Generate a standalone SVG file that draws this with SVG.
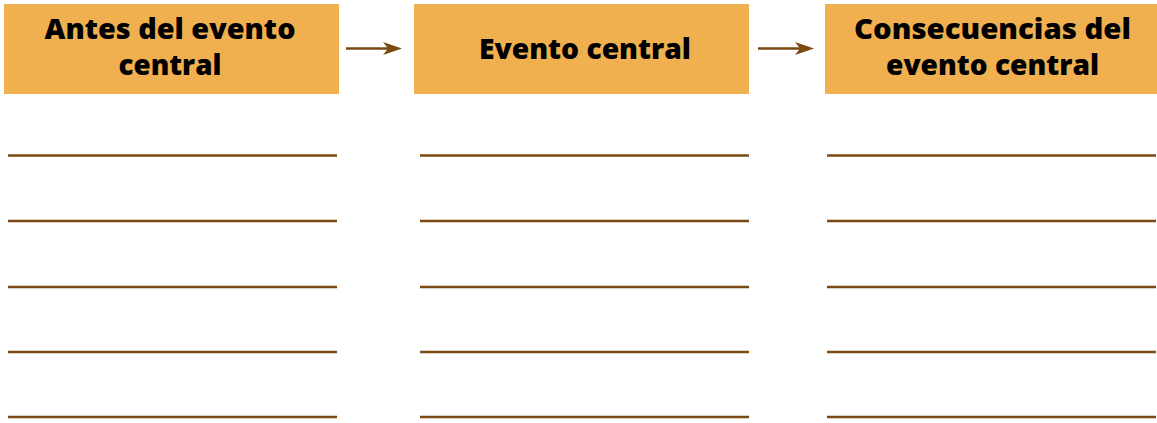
<svg xmlns="http://www.w3.org/2000/svg" width="1157" height="423" viewBox="0 0 1157 423">
<style>
.box{fill:#f0b050}
.lbl{font-family:"Open Sans","Lato",sans-serif;font-weight:800;font-size:28px;fill:#000;text-anchor:middle}
.ln{stroke:#7a4a12;stroke-width:2.6;fill:none}
.ah{fill:#7a4a12}
</style>
<rect width="1157" height="423" fill="#fff"/>
<g id="n1">
<rect class="box" x="4" y="4" width="335" height="90"/>
<text class="lbl" x="170" y="39" textLength="251" lengthAdjust="spacingAndGlyphs">Antes del evento</text>
<text class="lbl" x="170" y="75" textLength="103" lengthAdjust="spacingAndGlyphs">central</text>
</g>
<g id="n2">
<rect class="box" x="414" y="4" width="335" height="90"/>
<text class="lbl" x="585" y="59" textLength="212" lengthAdjust="spacingAndGlyphs">Evento central</text>
</g>
<g id="n3">
<rect class="box" x="825" y="4" width="332" height="90"/>
<text class="lbl" x="992.5" y="39" textLength="277" lengthAdjust="spacingAndGlyphs">Consecuencias del</text>
<text class="lbl" x="992.5" y="75" textLength="213" lengthAdjust="spacingAndGlyphs">evento central</text>
</g>
<g id="connectors">
<line class="ln" x1="346" y1="48.5" x2="390" y2="48.5"/>
<path class="ah" d="M383,42 L402,48.5 L383,55 L388,48.5 Z"/>
<line class="ln" x1="758" y1="48.5" x2="802" y2="48.5"/>
<path class="ah" d="M795,42 L814,48.5 L795,55 L800,48.5 Z"/>
</g>
<g id="lines">
<path class="ln" d="M8,155.5H337M8,221H337M8,287H337M8,352H337M8,417H337"/>
<path class="ln" d="M420,155.5H749M420,221H749M420,287H749M420,352H749M420,417H749"/>
<path class="ln" d="M827,155.5H1156M827,221H1156M827,287H1156M827,352H1156M827,417H1156"/>
</g>
</svg>
